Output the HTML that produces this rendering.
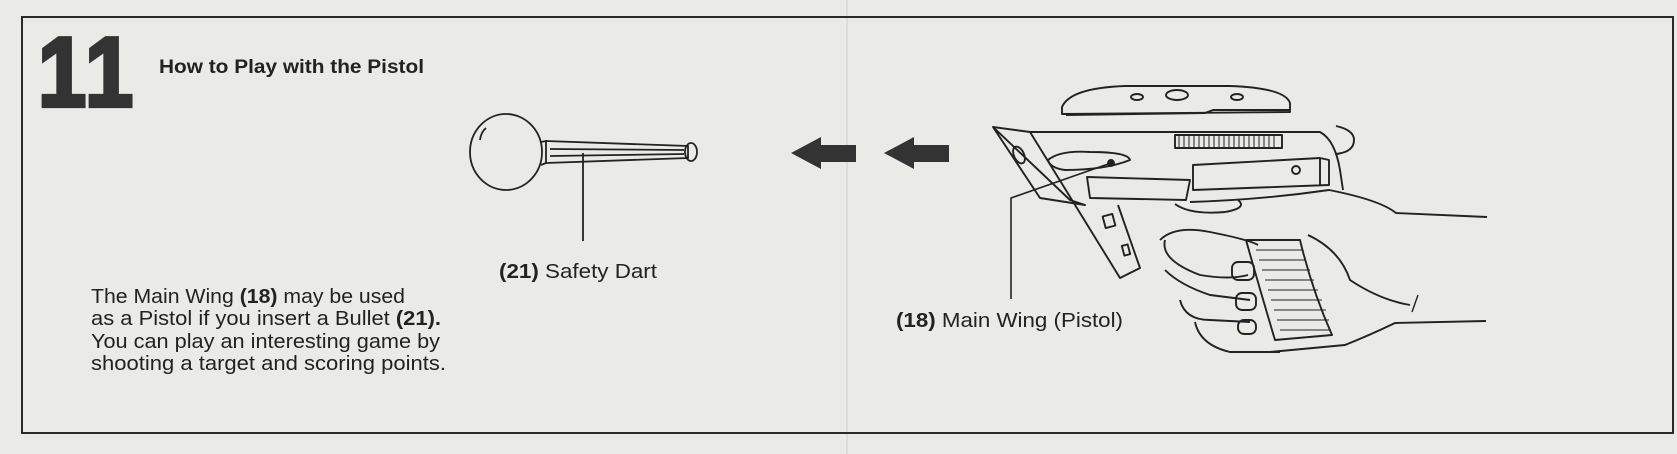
<!DOCTYPE html>
<html><head><meta charset="utf-8"><style>
html,body{margin:0;padding:0;background:#eaeae6;}
svg{display:block}
</style></head><body>
<svg width="1677" height="454" viewBox="0 0 1677 454" xmlns="http://www.w3.org/2000/svg" font-family="Liberation Sans, sans-serif">
<rect width="1677" height="454" fill="#eaeae6"/>
<line x1="847" y1="0" x2="847" y2="454" stroke="#dcdcd8" stroke-width="2"/>
<rect x="22" y="17" width="1651" height="416" fill="none" stroke="#2a2a2a" stroke-width="2"/>
<g transform="translate(38 106) scale(0.92 1.05)">
<text x="0" y="0" font-size="94" font-weight="bold" fill="#333" stroke="#333" stroke-width="4" stroke-linejoin="miter" letter-spacing="4">11</text>
</g>
<text x="159" y="73" font-size="19" font-weight="bold" fill="#222" textLength="265" lengthAdjust="spacingAndGlyphs">How to Play with the Pistol</text>
<g font-size="20.5" fill="#222">
<text x="91" y="303" textLength="314" lengthAdjust="spacingAndGlyphs">The Main Wing <tspan font-weight="bold">(18)</tspan> may be used</text>
<text x="91" y="325" textLength="350" lengthAdjust="spacingAndGlyphs">as a Pistol if you insert a Bullet <tspan font-weight="bold">(21).</tspan></text>
<text x="91" y="348" textLength="349" lengthAdjust="spacingAndGlyphs">You can play an interesting game by</text>
<text x="91" y="370" textLength="355" lengthAdjust="spacingAndGlyphs">shooting a target and scoring points.</text>
<text x="499" y="278" textLength="158" lengthAdjust="spacingAndGlyphs"><tspan font-weight="bold">(21)</tspan> Safety Dart</text>
<text x="896" y="327" textLength="227" lengthAdjust="spacingAndGlyphs"><tspan font-weight="bold">(18)</tspan> Main Wing (Pistol)</text>
</g>
<!-- dart -->
<g fill="none" stroke="#222" stroke-width="1.8">
<ellipse cx="506" cy="152" rx="36" ry="38"/>
<path d="M486 128 q-5 4 -6 12"/>
<path d="M541 142 L546 141 L546 163 L541 165"/>
<path d="M546 141 L688 146 L688 158 L546 163"/>
<path d="M550 149 L684 150 M550 156 L684 154"/>
<ellipse cx="691" cy="152" rx="6" ry="9"/>
<line x1="583" y1="153" x2="583" y2="241"/>
</g>
<!-- arrows -->
<g fill="#333">
<polygon points="791,153 821,137 821,145 856,145 856,162 821,162 821,169"/>
<polygon points="884,153 914,137 914,145 949,145 949,162 914,162 914,169"/>
</g>
<!-- pistol -->
<g fill="none" stroke="#222" stroke-width="1.9" stroke-linejoin="round">
<path d="M1062 107 Q1070 88 1125 86 L1230 86 Q1285 88 1290 103 L1290 112 L1062 114 Z"/>
<path d="M1066 115 L1205 113 L1213 110 L1290 110"/>
<ellipse cx="1137" cy="97" rx="6" ry="3"/>
<ellipse cx="1177" cy="95" rx="11" ry="5"/>
<ellipse cx="1237" cy="97" rx="6" ry="3"/>
<path d="M993 127 L1030 132 L1320 132 Q1335 140 1340 170 L1343 190"/>
<path d="M993 127 L1070 200 L1085 205 L1040 198 Z"/>
<path d="M1030 132 L1072 200"/>
<ellipse cx="1019" cy="155" rx="5" ry="9" transform="rotate(-25 1019 155)"/>
<path d="M1048 160 Q1060 150 1090 152 Q1128 152 1130 160 Q1105 170 1065 170 Q1050 168 1048 160Z"/>
<circle cx="1111" cy="163" r="3" fill="#222"/>
<path d="M1111 163 L1011 198 L1011 299" stroke-width="1.6"/>
<path d="M1087 177 L1190 180 L1186 200 L1090 198 Z"/>
<rect x="1175" y="135" width="107" height="13"/>
<path d="M1179 136 v11 M1184 136 v11 M1189 136 v11 M1194 136 v11 M1199 136 v11 M1204 136 v11 M1209 136 v11 M1214 136 v11 M1219 136 v11 M1224 136 v11 M1229 136 v11 M1234 136 v11 M1239 136 v11 M1244 136 v11 M1249 136 v11 M1254 136 v11 M1259 136 v11 M1264 136 v11 M1269 136 v11 M1274 136 v11" stroke-width="1"/>
<path d="M1193 165 L1320 158 L1329 160 L1329 185 L1193 190 Z M1320 158 L1320 185"/>
<circle cx="1296" cy="170" r="4"/>
<path d="M1336 126 Q1354 130 1354 140 Q1354 152 1336 154"/>
<path d="M1072 200 L1120 278 L1140 268 L1118 205"/>
<rect x="1104" y="215" width="10" height="12" transform="rotate(-15 1109 221)"/>
<rect x="1123" y="245" width="6" height="10" transform="rotate(-15 1126 250)"/>
<path d="M1190 202 Q1260 200 1329 190 Q1380 200 1396 213 L1487 217"/>
<path d="M1486 321 L1395 323 Q1370 335 1345 345 L1270 352"/>
<path d="M1165 240 Q1160 260 1200 275 Q1230 280 1248 275"/>
<path d="M1175 204 Q1190 215 1225 212 Q1248 208 1238 200"/>
<path d="M1160 240 Q1175 225 1210 232 Q1250 240 1258 245"/>
<path d="M1165 270 Q1180 285 1210 295 L1250 300"/>
<path d="M1180 300 Q1185 320 1210 320 L1250 322"/>
<path d="M1195 322 Q1200 345 1230 352 L1280 352"/>
<rect x="1232" y="262" width="22" height="18" rx="6"/>
<rect x="1236" y="293" width="20" height="17" rx="6"/>
<rect x="1238" y="320" width="18" height="14" rx="6"/>
<path d="M1246 240 L1300 240 Q1312 290 1332 335 L1275 340 Q1260 290 1246 240Z"/>
<path d="M1256 250 L1302 250 M1259 260 L1306 260 M1262 270 L1310 270 M1265 280 L1314 280 M1268 290 L1318 290 M1271 300 L1322 300 M1274 310 L1326 310 M1277 320 L1329 320 M1280 330 L1331 330" stroke-width="1"/>
<path d="M1308 235 Q1340 250 1350 280 Q1380 300 1410 305"/>
<path d="M1418 295 L1412 312" stroke-width="1.4"/>
</g>
</svg>
</body></html>
